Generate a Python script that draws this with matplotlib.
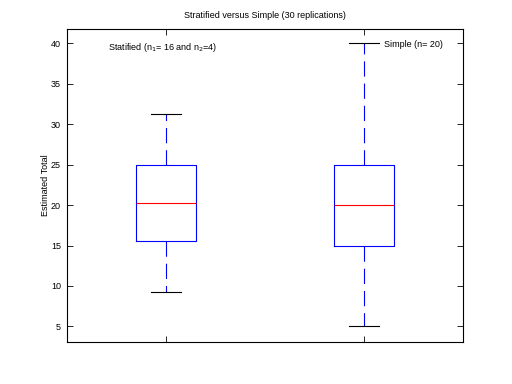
import matplotlib
matplotlib.use("Agg")
import matplotlib.pyplot as plt

plt.rcParams['font.family'] = ['Liberation Sans', 'DejaVu Sans']
plt.rcParams['lines.scale_dashes'] = False

# Box summaries
labels = ["Statified", "Simple"]
medians = [20.3, 20.0]
q1 = [15.6, 15.0]
q3 = [25.0, 25.0]
whislo = [9.3, 5.0]
whishi = [31.3, 40.0]

stats = []
for i in range(len(labels)):
    stats.append({"label": labels[i], "med": medians[i], "q1": q1[i], "q3": q3[i],
                  "whislo": whislo[i], "whishi": whishi[i], "fliers": []})

fig = plt.figure(figsize=(5.12, 3.84), dpi=100)
ax = fig.add_axes([0.13, 0.11, 0.775, 0.815])

ax.bxp(stats, positions=[1, 2], widths=0.3, showfliers=False,
       boxprops=dict(color="blue", linewidth=0.8),
       whiskerprops=dict(color="blue", linewidth=0.8, linestyle=(0, (11, 5))),
       capprops=dict(color="black", linewidth=0.8),
       medianprops=dict(color="red", linewidth=0.8),
       capwidths=0.15)

ax.set_xlim(0.5, 2.5)
ax.set_ylim(3.1, 41.8)
ax.set_yticks([5, 10, 15, 20, 25, 30, 35, 40])
ax.set_xticks([1, 2])
ax.set_xticklabels(["", ""])
ax.tick_params(direction="in", top=True, right=True, labelsize=6.5, length=4, width=0.6, pad=4)
for s in ax.spines.values():
    s.set_linewidth(0.8)

ax.set_title("Stratified versus Simple (30 replications)", fontsize=6.5, pad=8)
ax.set_ylabel("Estimated Total", fontsize=6.5, labelpad=1)

ax.text(0.71, 39.5, "Statified (n$_1$= 16 and n$_2$=4)", fontsize=6.5, va="center")
ax.text(2.1, 39.9, "Simple (n= 20)", fontsize=6.5, va="center")

fig.savefig("out.png", dpi=100)
